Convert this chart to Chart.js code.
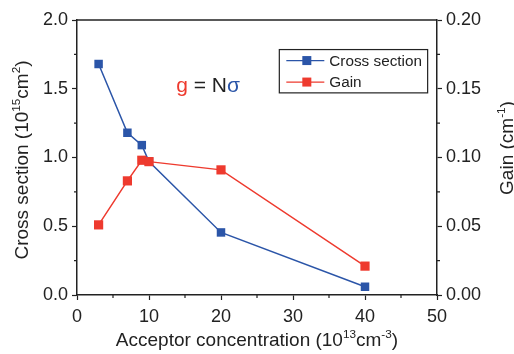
<!DOCTYPE html>
<html>
<head>
<meta charset="utf-8">
<script src="https://cdn.jsdelivr.net/npm/chart.js@4.4.1/dist/chart.umd.min.js"></script>
<style>
  html, body { margin: 0; padding: 0; background: #fff; }
  #wrap { width: 514px; height: 354px; }
</style>
</head>
<body>
<div id="wrap"><canvas id="chart"></canvas></div>
<script>
// acceptor concentration in 1e13 cm^-3
const acceptorConc = [3, 7, 9, 10, 20, 40];
// cross section in 1e-15 cm^2
const crossSection = [1.68, 1.18, 1.09, 0.97, 0.455, 0.06];
// gain in cm^-1
const gain = [0.051, 0.083, 0.098, 0.097, 0.091, 0.021];

const xRange = [0, 50];
const leftRange = [0, 2.0];
const rightRange = [0, 0.20];

const BLUE = "#2b55a8";
const RED = "#ee3a2e";
const INK = "#222";
const FONT = "'Liberation Sans', Arial, sans-serif";

function toPoints(xs, ys) {
  return xs.map((x, i) => ({ x: x, y: ys[i] }));
}

// text runs where some runs are superscripts
function richWidth(ctx, parts, size) {
  let w = 0;
  parts.forEach((p) => {
    ctx.font = (p.sup ? size * 0.62 : size) + "px " + FONT;
    w += ctx.measureText(p.t).width;
  });
  return w;
}

function drawRich(ctx, parts, x, y, size) {
  let cx = x - richWidth(ctx, parts, size) / 2;
  ctx.textBaseline = "alphabetic";
  ctx.textAlign = "left";
  parts.forEach((p) => {
    ctx.font = (p.sup ? size * 0.62 : size) + "px " + FONT;
    ctx.fillStyle = p.color || INK;
    ctx.fillText(p.t, cx, p.sup ? y - size * 0.42 : y);
    cx += ctx.measureText(p.t).width;
  });
}

const decorations = {
  id: "decorations",
  afterDraw(chart) {
    const ctx = chart.ctx;
    const area = chart.chartArea;
    const sx = chart.scales.x;
    const sy = chart.scales.y;
    const sy1 = chart.scales.y1;
    ctx.save();

    // top frame line
    ctx.strokeStyle = INK;
    ctx.lineWidth = 1.5;
    ctx.beginPath();
    ctx.moveTo(area.left, area.top);
    ctx.lineTo(area.right, area.top);
    ctx.stroke();

    // minor ticks
    ctx.lineWidth = 1.2;
    ctx.beginPath();
    for (let v = 5; v < xRange[1]; v += 10) {
      const px = sx.getPixelForValue(v);
      ctx.moveTo(px, area.bottom);
      ctx.lineTo(px, area.bottom + 3);
    }
    for (let v = 0.25; v < leftRange[1]; v += 0.5) {
      const py = sy.getPixelForValue(v);
      ctx.moveTo(area.left, py);
      ctx.lineTo(area.left - 3, py);
    }
    for (let v = 0.025; v < rightRange[1]; v += 0.05) {
      const py = sy1.getPixelForValue(v);
      ctx.moveTo(area.right, py);
      ctx.lineTo(area.right + 3, py);
    }
    ctx.stroke();

    // axis titles
    drawRich(ctx, [
      { t: "Acceptor concentration (10" }, { t: "13", sup: true },
      { t: "cm" }, { t: "-3", sup: true }, { t: ")" }
    ], (area.left + area.right) / 2, 346, 19);

    ctx.save();
    ctx.translate(28, 160);
    ctx.rotate(-Math.PI / 2);
    drawRich(ctx, [
      { t: "Cross section (10" }, { t: "15", sup: true },
      { t: "cm" }, { t: "2", sup: true }, { t: ")" }
    ], 0, 0, 19);
    ctx.restore();

    ctx.save();
    ctx.translate(513, 148);
    ctx.rotate(-Math.PI / 2);
    drawRich(ctx, [
      { t: "Gain (cm" }, { t: "-1", sup: true }, { t: ")" }
    ], 0, 0, 19);
    ctx.restore();

    // relation label
    drawRich(ctx, [
      { t: "g", color: RED }, { t: " = N", color: INK }, { t: "\u03c3", color: BLUE }
    ], sx.getPixelForValue(18.2), sy.getPixelForValue(1.476), 21);

    // legend box
    const lx = sx.getPixelForValue(28.1);
    const rx = sx.getPixelForValue(48.7);
    const ty = sy.getPixelForValue(1.785);
    const by = sy.getPixelForValue(1.47);
    ctx.strokeStyle = INK;
    ctx.lineWidth = 1.2;
    ctx.strokeRect(lx, ty, rx - lx, by - ty);
    const rows = chart.data.datasets.slice().sort((a, b) => a.legendIndex - b.legendIndex);
    rows.forEach((ds, i) => {
      const yy = ty + 11 + i * 21.5;
      ctx.strokeStyle = ds.borderColor;
      ctx.lineWidth = 1.2;
      ctx.beginPath();
      ctx.moveTo(lx + 7, yy);
      ctx.lineTo(lx + 45, yy);
      ctx.stroke();
      ctx.fillStyle = ds.backgroundColor;
      ctx.fillRect(lx + 23, yy - 4.5, 9, 9);
      ctx.fillStyle = INK;
      ctx.font = "15.3px " + FONT;
      ctx.textAlign = "left";
      ctx.textBaseline = "middle";
      ctx.fillText(ds.label, lx + 50, yy + 1);
    });

    ctx.restore();
  }
};

function axisStyle() {
  return {
    grid: { drawOnChartArea: false, tickLength: 5, tickColor: INK, tickWidth: 1.2 },
    border: { color: INK, width: 1.5 },
  };
}

const xAxis = Object.assign(axisStyle(), {
  type: "linear",
  min: xRange[0],
  max: xRange[1],
  ticks: { stepSize: 10, color: INK, font: { family: FONT, size: 18 }, padding: 6, maxRotation: 0 },
  afterFit: (s) => { s.height = 59; },
});

const yAxis = Object.assign(axisStyle(), {
  position: "left",
  min: leftRange[0],
  max: leftRange[1],
  ticks: {
    stepSize: 0.5, color: INK, font: { family: FONT, size: 18 }, padding: 4,
    callback: (v) => v.toFixed(1),
  },
  afterFit: (s) => { s.width = 77; },
});

const y1Axis = Object.assign(axisStyle(), {
  position: "right",
  min: rightRange[0],
  max: rightRange[1],
  ticks: {
    stepSize: 0.05, color: INK, font: { family: FONT, size: 18 }, padding: 4,
    callback: (v) => v.toFixed(2),
  },
  afterFit: (s) => { s.width = 77; },
});

new Chart(document.getElementById("chart"), {
  type: "line",
  data: {
    datasets: [
      {
        label: "Gain",
        legendIndex: 1,
        data: toPoints(acceptorConc, gain),
        yAxisID: "y1",
        borderColor: RED,
        backgroundColor: RED,
        borderWidth: 1.5,
        pointStyle: "rect",
        pointRadius: 6.5,
        pointBorderWidth: 0,
      },
      {
        label: "Cross section",
        legendIndex: 0,
        data: toPoints(acceptorConc, crossSection),
        yAxisID: "y",
        borderColor: BLUE,
        backgroundColor: BLUE,
        borderWidth: 1.5,
        pointStyle: "rect",
        pointRadius: 6,
        pointBorderWidth: 0,
      },
    ],
  },
  options: {
    responsive: true,
    maintainAspectRatio: false,
    animation: false,
    layout: { padding: { top: 20, left: 0, right: 0, bottom: 0 } },
    plugins: { legend: { display: false }, tooltip: { enabled: false } },
    scales: { x: xAxis, y: yAxis, y1: y1Axis },
  },
  plugins: [decorations],
});
</script>
</body>
</html>
